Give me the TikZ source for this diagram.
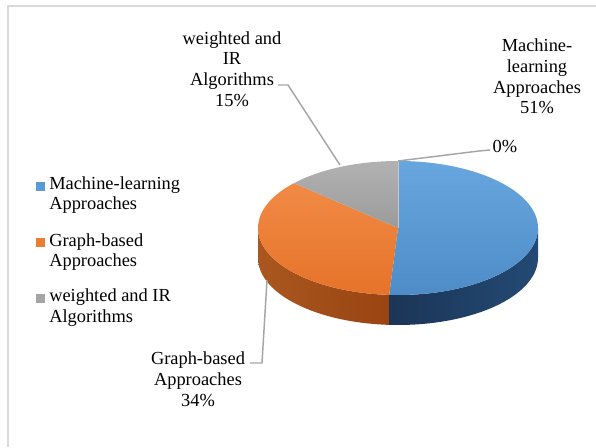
\documentclass[tikz,border=0pt]{standalone}
\usepackage{fontspec}
\setmainfont{Liberation Serif}
\definecolor{mlblue}{HTML}{5B9BD5}
\definecolor{mlbluehi}{HTML}{68A6DF}
\definecolor{mlbluelo}{HTML}{4E8CC8}
\definecolor{mlsideA}{HTML}{1B3556}
\definecolor{mlsideB}{HTML}{2A5888}
\definecolor{mlsideC}{HTML}{234A74}
\definecolor{gborange}{HTML}{ED7D31}
\definecolor{gborangehi}{HTML}{F18A45}
\definecolor{gborangelo}{HTML}{E6732A}
\definecolor{gbsideA}{HTML}{A9571F}
\definecolor{gbsideB}{HTML}{D96A1D}
\definecolor{gbsideC}{HTML}{9A4412}
\definecolor{irgrey}{HTML}{A5A5A5}
\definecolor{irgreyhi}{HTML}{B2B2B2}
\definecolor{irgreylo}{HTML}{9B9B9B}
\definecolor{leadergrey}{HTML}{A6A6A6}
\definecolor{framegrey}{HTML}{D9D9D9}
\begin{document}
\begin{tikzpicture}[x=0.75pt,y=0.75pt,
  txt/.style={font=\fontsize{13.8}{15.6}\selectfont, inner sep=0pt, text=black},
  lbl/.style={txt, align=center},
  leg/.style={txt, align=left, anchor=west},
  legkey/.style={minimum size=6.75pt, inner sep=0pt, draw=none},
  leader/.style={draw=leadergrey, line width=1.1pt, line join=miter}]
\fill[white] (0,0) rectangle (596,447);
\useasboundingbox (0,0) rectangle (596,447);

% chart frame
\draw[framegrey, line width=1.5pt] (8,0) -- (8,441) -- (596,441);

% pie geometry: centre (398,219), radii 140 x 67, depth 30
% front side walls
\shade[left color=gbsideA, middle color=gbsideB, right color=gbsideC]
  (258,219) arc[start angle=180, end angle=266.4, x radius=140, y radius=67]
  -- ++(0,-30) arc[start angle=266.4, end angle=180, x radius=140, y radius=67] -- cycle;
\shade[left color=mlsideA, middle color=mlsideB, right color=mlsideC]
  ({398+140*cos(-93.6)},{219+67*sin(-93.6)}) arc[start angle=-93.6, end angle=0, x radius=140, y radius=67]
  -- ++(0,-30) arc[start angle=0, end angle=-93.6, x radius=140, y radius=67] -- cycle;

% top faces
\shade[top color=mlbluehi, bottom color=mlbluelo]
  (398,219) -- (398,286) arc[start angle=90, end angle=-93.6, x radius=140, y radius=67] -- cycle;
\shade[top color=gborangehi, bottom color=gborangelo]
  (398,219) -- ({398+140*cos(-93.6)},{219+67*sin(-93.6)})
  arc[start angle=-93.6, end angle=-222, x radius=140, y radius=67] -- cycle;
\shade[top color=irgreyhi, bottom color=irgreylo]
  (398,219) -- ({398+140*cos(138)},{219+67*sin(138)})
  arc[start angle=138, end angle=90, x radius=140, y radius=67] -- cycle;
% the 0% slice seen edge-on
\draw[irgrey!60, line width=0.6pt] (398,219) -- (398,286);

% leader anchor points on the pie
\coordinate (irTip) at (340,282);
\coordinate (zeroTip) at (398,286);
\coordinate (gbTip) at (267,167);

% data labels
\node[lbl] (mlLabel) at (537,370.5) {Machine-\\learning\\Approaches\\51\%};
\node[lbl] (irLabel) at (232,378) {weighted and\\IR\\Algorithms\\15\%};
\node[lbl] (zeroLabel) at (505,300) {0\%};
\node[lbl] (gbLabel) at (198,68) {Graph-based\\Approaches\\34\%};

% leader lines
\coordinate (irStart) at (278,362);
\coordinate (zeroStart) at (490,297);
\coordinate (gbStart) at (250,84);
\draw[leader] (irStart) -- ++(10,0) -- (irTip);
\draw[leader] (zeroStart) -- ++(-11,-1) -- (zeroTip);
\draw[leader] (gbStart) -- ++(12,0) -- (gbTip);

% legend
\node[legkey, fill=mlblue] (keyML) at (40,260.5) {};
\node[leg] (legML) at (49,252) {Machine-learning\\Approaches};
\node[legkey, fill=gborange] (keyGB) at (40,204.5) {};
\node[leg] (legGB) at (49,195) {Graph-based\\Approaches};
\node[legkey, fill=irgrey] (keyIR) at (40,148.5) {};
\node[leg] (legIR) at (49,139) {weighted and IR\\Algorithms};
\end{tikzpicture}
\end{document}
